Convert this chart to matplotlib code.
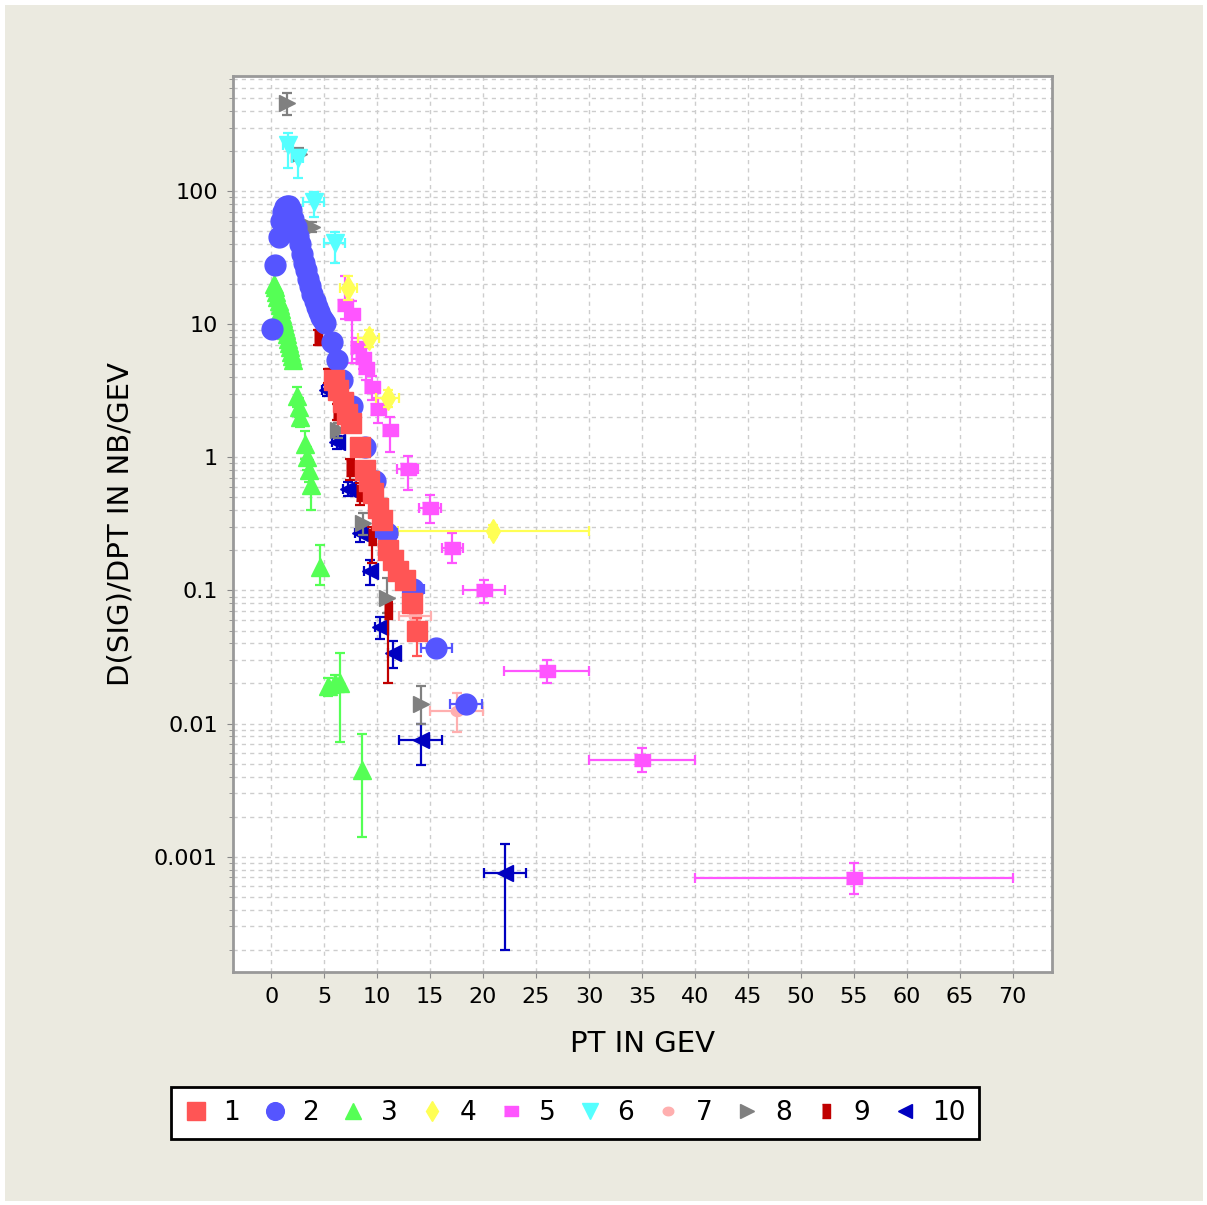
import numpy as np
import matplotlib
matplotlib.use('Agg')
import matplotlib.pyplot as plt
from matplotlib.lines import Line2D
from matplotlib.patches import Rectangle
from matplotlib.ticker import LogLocator, FixedLocator, NullFormatter

# ---- data ----
# series 1 (red squares)
x1 = [5.9, 6.3, 6.8, 7.2, 7.5, 8.4, 8.9, 9.2, 9.6, 10.1, 10.5, 11.0, 11.5, 12.0, 12.6, 13.3, 13.8]
y1 = [3.8, 3.2, 2.6, 2.1, 1.8, 1.2, 0.80, 0.67, 0.54, 0.42, 0.34, 0.20, 0.17, 0.14, 0.12, 0.080, 0.050]
y1_lo = [0.4, 0.3, 0.25, 0.2, 0.2, 0.12, 0.08, 0.07, 0.05, 0.04, 0.03, 0.02, 0.02, 0.015, 0.015, 0.012, 0.018]
y1_hi = [0.4, 0.3, 0.25, 0.2, 0.2, 0.12, 0.08, 0.07, 0.05, 0.04, 0.03, 0.02, 0.02, 0.015, 0.015, 0.012, 0.012]

# series 2 (blue circles): dense low-pt part and sparse tail
x2a = [0.1, 0.4, 0.7, 0.9, 1.1, 1.3, 1.5, 1.7, 1.9, 2.1, 2.3, 2.5, 2.7, 2.9, 3.1, 3.3, 3.5,
       3.7, 3.9, 4.1, 4.3, 4.5, 4.7, 4.9, 5.1]
y2a = [9.2, 28, 45, 60, 70, 76, 78, 77, 72, 62, 54, 46, 40, 34, 29, 25.5, 22,
       19.5, 17, 15, 13.5, 12.3, 11.3, 10.8, 10.3]
x2b = [5.7, 6.2, 6.7, 7.6, 8.9, 9.8, 10.9, 13.4, 15.6, 18.4]
y2b = [7.3, 5.4, 3.8, 2.45, 1.2, 0.67, 0.27, 0.103, 0.037, 0.014]
x2b_err = [0.3, 0.3, 0.3, 0.3, 0.4, 0.4, 1.0, 1.0, 1.5, 1.5]

# series 3 (green triangles)
x3a = [0.3, 0.4, 0.5, 0.6, 0.7, 0.8, 0.9, 1.0, 1.1, 1.2, 1.3, 1.4, 1.5, 1.6, 1.7, 1.8, 1.9, 2.0, 2.1]
y3a = [20, 19, 17.5, 16, 15, 14, 13, 12, 11.2, 10.4, 9.7, 9.0, 8.4, 7.8, 7.2, 6.7, 6.2, 5.8, 5.4]
x3b = [2.45, 2.6, 2.75, 3.2, 3.4, 3.6, 3.8, 4.6, 5.4, 6.0, 6.5, 8.6]
y3b = [2.9, 2.4, 2.0, 1.27, 1.0, 0.8, 0.62, 0.15, 0.019, 0.020, 0.020, 0.0045]
y3b_lo = [0.5, 0.4, 0.3, 0.3, 0.2, 0.15, 0.22, 0.04, 0.003, 0.003, 0.0127, 0.0031]
y3b_hi = [0.5, 0.4, 0.3, 0.3, 0.2, 0.15, 0.10, 0.07, 0.003, 0.003, 0.014, 0.0038]

# series 4 (yellow diamonds)
x4 = [7.3, 9.2, 11.0, 20.9]
y4 = [18.7, 7.9, 2.8, 0.28]
x4_lo = [0.8, 1.0, 1.1, 8.9]
x4_hi = [0.8, 1.0, 1.1, 9.1]
y4_lo = [3.5, 1.2, 0.4, 0.03]
y4_hi = [4.5, 1.2, 0.4, 0.03]

# series 5 (magenta rectangles)
x5 = [7.0, 7.6, 8.2, 8.7, 9.0, 9.5, 10.1, 11.2, 12.9, 15.0, 17.1, 20.1, 26.0, 35.0, 55.0]
y5 = [14, 12, 6.7, 5.6, 4.7, 3.4, 2.3, 1.6, 0.82, 0.42, 0.21, 0.10, 0.025, 0.0053, 0.00069]
x5_err = [0.5, 0.5, 0.5, 0.5, 0.5, 0.5, 0.5, 0.5, 1.0, 1.0, 1.0, 2.0, 4.0, 5.0, 15.0]
y5_lo = [3, 6.9, 1.2, 1.0, 0.9, 0.7, 0.5, 0.5, 0.25, 0.1, 0.05, 0.02, 0.005, 0.001, 0.00017]
y5_hi = [9, 3, 1.2, 1.0, 0.9, 0.7, 0.5, 0.4, 0.2, 0.1, 0.06, 0.02, 0.005, 0.0012, 0.0002]

# series 6 (cyan down triangles)
x6 = [1.6, 2.5, 4.0, 6.0]
y6 = [222, 177, 83, 41]
x6_err = [0.5, 0.5, 1.0, 1.0]
y6_lo = [73, 52, 19, 12]
y6_hi = [51, 26, 15, 8]

# series 7 (pink)
x7 = [13.6, 17.5]
y7 = [0.064, 0.0124]
x7_err = [1.5, 2.5]
y7_lo = [0.02, 0.0038]
y7_hi = [0.02, 0.0046]

# series 8 (gray right triangles)
x8 = [1.5, 2.6, 3.9, 6.3, 8.7, 10.9, 14.1]
y8 = [459, 190, 54, 1.6, 0.32, 0.088, 0.014]
y8_lo = [87, 20, 5, 0.2, 0.06, 0.02, 0.004]
y8_hi = [87, 20, 5, 0.2, 0.06, 0.035, 0.005]

# series 9 (dark red bars)
x9 = [4.4, 5.4, 6.2, 7.45, 8.4, 9.5, 11.0]
y9 = [8.0, 4.1, 2.2, 0.83, 0.54, 0.25, 0.07]
y9_lo = [1.0, 0.5, 0.3, 0.15, 0.1, 0.09, 0.05]
y9_hi = [1.0, 0.5, 0.3, 0.15, 0.1, 0.05, 0.012]

# series 10 (dark blue left triangles)
x10 = [5.3, 6.2, 7.3, 8.4, 9.3, 10.3, 11.5, 14.1, 22.1]
y10 = [3.2, 1.3, 0.58, 0.27, 0.14, 0.053, 0.034, 0.0075, 0.00075]
x10_err = [0.5, 0.5, 0.5, 0.5, 0.5, 0.5, 0.5, 2.0, 2.0]
y10_lo = [0.3, 0.15, 0.07, 0.04, 0.03, 0.01, 0.008, 0.0026, 0.00055]
y10_hi = [0.3, 0.15, 0.07, 0.04, 0.03, 0.01, 0.008, 0.0025, 0.0005]

labels = ['1', '2', '3', '4', '5', '6', '7', '8', '9', '10']
x_ticks = [0, 5, 10, 15, 20, 25, 30, 35, 40, 45, 50, 55, 60, 65, 70]
y_ticks = [0.001, 0.01, 0.1, 1, 10, 100]
y_ticklabels = ['0.001', '0.01', '0.1', '1', '10', '100']

# ---- styles ----
c = ['#FF5555', '#5555FF', '#55FF55', '#FFFF55', '#FF55FF',
     '#55FFFF', '#FFAFAF', '#808080', '#C00000', '#0000C0']
rect_wide = [(-1, -0.75), (1, -0.75), (1, 0.75), (-1, 0.75)]
rect_tall = [(-0.5, -1), (0.5, -1), (0.5, 1), (-0.5, 1)]
ellipse = [(np.cos(t), 0.8 * np.sin(t)) for t in np.linspace(0, 2 * np.pi, 30)]
mk = ['s', 'o', '^', 'd', rect_wide, 'v', ellipse, '>', rect_tall, '<']
ms = [15, 15, 13, 12, 12, 13, 9, 12, 12, 12]

fig = plt.figure(figsize=(12.07, 12.05), dpi=100, facecolor='white')
fig.patches.append(Rectangle((0.004, 0.003), 0.993, 0.993, transform=fig.transFigure,
                             facecolor='#EBEAE0', edgecolor='none', zorder=-10))
ax = fig.add_axes([233 / 1207, 1 - 972 / 1205, (1052 - 233) / 1207, (972 - 76) / 1205])
ax.set_zorder(1)
ax.set_facecolor('white')

eb = dict(elinewidth=1.6, capsize=3.5, capthick=1.6, ls='none')


def draw(i, x, y, xerr=None, yerr=None, z=2):
    ax.errorbar(x, y, xerr=xerr, yerr=yerr, marker=mk[i], ms=ms[i], color=c[i],
                mec=c[i], ecolor=c[i], zorder=z, **eb)


# later series drawn first, series 1 on top
draw(9, x10, y10, x10_err, [y10_lo, y10_hi], z=2.1)
draw(8, x9, y9, None, [y9_lo, y9_hi], z=2.2)
draw(7, x8, y8, None, [y8_lo, y8_hi], z=2.3)
draw(6, x7, y7, x7_err, [y7_lo, y7_hi], z=2.4)
draw(5, x6, y6, x6_err, [y6_lo, y6_hi], z=2.5)
draw(4, x5, y5, x5_err, [y5_lo, y5_hi], z=2.6)
draw(3, x4, y4, [x4_lo, x4_hi], [y4_lo, y4_hi], z=2.7)
draw(2, x3a, y3a, z=2.8)
draw(2, x3b, y3b, None, [y3b_lo, y3b_hi], z=2.8)
draw(1, x2a, y2a, z=2.9)
draw(1, x2b, y2b, x2b_err, None, z=2.9)
draw(0, x1, y1, None, [y1_lo, y1_hi], z=3.0)

ax.set_yscale('log')
ax.set_xlim(-3.6, 73.7)
ax.set_ylim(1.36e-4, 733)

ax.xaxis.set_major_locator(FixedLocator(x_ticks))
ax.set_xticks(x_ticks)
ax.set_xticklabels([str(v) for v in x_ticks])
ax.set_yticks(y_ticks)
ax.set_yticklabels(y_ticklabels)
ax.yaxis.set_minor_locator(LogLocator(base=10, subs=np.arange(2, 10), numticks=20))
ax.yaxis.set_minor_formatter(NullFormatter())

ax.grid(True, which='major', axis='both', color='#CDCDCD', ls=(0, (3, 3)), lw=1)
ax.grid(True, which='minor', axis='y', color='#CDCDCD', ls=(0, (3, 3)), lw=1)
ax.set_axisbelow(True)

ax.tick_params(which='both', direction='out', color='#888888', labelsize=16, pad=7)
ax.tick_params(which='major', length=4)
ax.tick_params(which='minor', length=3)
for s in ax.spines.values():
    s.set_color('#999999')
    s.set_linewidth(2)

ax.set_xlabel('PT IN GEV', fontsize=21, labelpad=16)
ax.set_ylabel('D(SIG)/DPT IN NB/GEV', fontsize=21, labelpad=14)

handles = [Line2D([], [], marker=mk[i], ms=ms[i] * 0.85, color=c[i], ls='none')
           for i in range(10)]
leg = fig.legend(handles, labels, loc='center', bbox_to_anchor=(575 / 1207, 1 - 1113 / 1205),
                 ncol=10, fontsize=19, frameon=True, fancybox=False, edgecolor='black',
                 handlelength=0.9, handletextpad=0.6, columnspacing=0.85, borderpad=0.5)
leg.get_frame().set_linewidth(2)
leg.get_frame().set_facecolor('white')
leg.get_frame().set_alpha(1)

fig.savefig('out.png', dpi=100, facecolor=fig.get_facecolor())
